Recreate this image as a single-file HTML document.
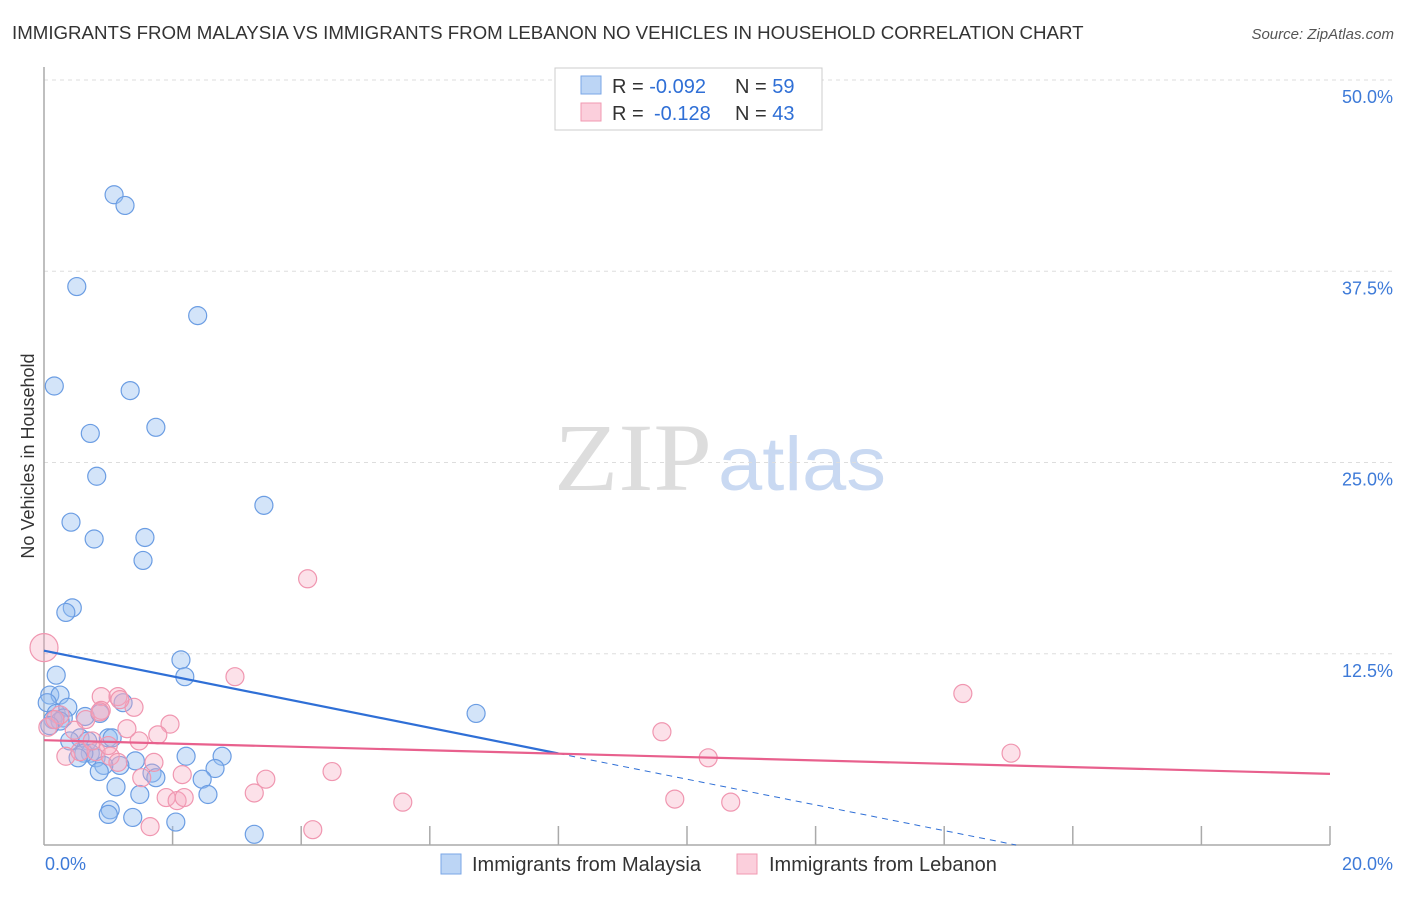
<!DOCTYPE html>
<html><head><meta charset="utf-8"><style>
body{margin:0;background:#fff;font-family:"Liberation Sans",sans-serif;}
svg text{font-family:"Liberation Sans",sans-serif;}
</style></head><body>
<svg id="chart" width="1406" height="892" viewBox="0 0 1406 892" xmlns="http://www.w3.org/2000/svg">
<text x="12" y="39" font-size="18.7" fill="#333">IMMIGRANTS FROM MALAYSIA VS IMMIGRANTS FROM LEBANON NO VEHICLES IN HOUSEHOLD CORRELATION CHART</text>
<text x="1394" y="39" font-size="15" fill="#555" text-anchor="end" font-style="italic">Source: ZipAtlas.com</text>
<text x="0" y="0" transform="translate(34,456) rotate(-90)" font-size="18" fill="#333" text-anchor="middle">No Vehicles in Household</text>
<g>
<text x="554" y="490" font-size="96" fill="#ddd" textLength="158" lengthAdjust="spacingAndGlyphs" style="font-family:'Liberation Serif',serif">ZIP</text>
<text x="718" y="490" font-size="76" fill="#c9d9f2" textLength="168" lengthAdjust="spacingAndGlyphs">atlas</text>
</g>
<g id="grid"></g>
<g id="axes"></g>
<g id="pts"></g>
<g id="lines"></g>
<g>
<rect x="555" y="68" width="267" height="62" fill="#fff" stroke="#ccc"/>
<rect x="581" y="76" width="20" height="18" fill="#bcd5f5" stroke="#7aa6e6"/>
<rect x="581" y="103" width="20" height="18" fill="#fbcfdc" stroke="#f09ab2"/>
<text x="612" y="93" font-size="20" fill="#333">R = <tspan fill="#2f6fd6">-0.092</tspan><tspan x="735">N = </tspan><tspan fill="#2f6fd6">59</tspan></text>
<text x="612" y="120" font-size="20" fill="#333">R = <tspan x="654" fill="#2f6fd6">-0.128</tspan><tspan x="735">N = </tspan><tspan fill="#2f6fd6">43</tspan></text>
</g>
<g>
<rect x="441" y="854" width="20" height="20" fill="#bcd5f5" stroke="#7aa6e6"/>
<text x="472" y="871" font-size="20" fill="#333">Immigrants from Malaysia</text>
<rect x="737" y="854" width="20" height="20" fill="#fbcfdc" stroke="#f09ab2"/>
<text x="769" y="871" font-size="20" fill="#333">Immigrants from Lebanon</text>
</g>
</svg>
<script>
const yTicks=[12.5,25,37.5,50];
const yTickLabels=["12.5%","25.0%","37.5%","50.0%"];
const xTicks=[0,2,4,6,8,10,12,14,16,18,20];
const malaysiaX=[1.09,1.26,0.51,2.39,0.16,1.34,0.72,1.74,0.82,0.42,3.42,0.78,1.57,1.54,0.44,0.34,2.13,2.19,0.19,6.72,0.09,0.25,0.05,0.19,0.37,0.14,0.30,0.64,0.87,1.23,0.56,0.68,1.00,1.06,0.72,0.81,0.62,1.42,1.18,0.93,2.21,2.77,1.68,1.74,0.86,2.66,2.46,1.12,1.49,2.55,1.03,1.00,1.38,2.05,3.27,0.25,0.53,0.09,0.40];
const malaysiaY=[42.5,41.8,36.5,34.6,30.0,29.7,26.9,27.3,24.1,21.1,22.2,20.0,20.1,18.6,15.5,15.2,12.1,11.0,11.1,8.6,9.8,9.8,9.3,8.6,9.0,8.2,8.3,8.4,8.6,9.3,7.0,6.8,7.0,7.0,6.0,5.7,6.0,5.5,5.2,5.2,5.8,5.8,4.7,4.4,4.8,5.0,4.3,3.8,3.3,3.3,2.3,2.0,1.8,1.5,0.7,8.1,5.7,7.8,6.8];
const lebanonX=[0.0,4.1,2.97,14.29,15.04,9.61,10.33,9.81,10.68,5.58,4.18,3.45,3.27,4.48,1.65,1.90,2.07,2.18,2.15,1.71,1.48,1.29,1.15,0.89,0.89,1.40,1.96,1.77,0.65,0.47,0.34,0.56,0.81,1.03,1.15,1.52,0.25,0.06,0.17,0.75,0.87,1.18,1.00];
const lebanonY=[12.9,17.4,11.0,9.9,6.0,7.4,5.7,3.0,2.8,2.8,1.0,4.3,3.4,4.8,1.2,3.1,2.9,3.1,4.6,5.4,6.8,7.6,9.7,9.7,8.8,9.0,7.9,7.2,8.2,7.5,5.8,6.1,6.1,5.8,5.4,4.4,8.5,7.7,8.2,6.8,8.7,9.5,6.5];
const lebanonR=[14,9,9,9,9,9,9,9,9,9,9,9,9,9,9,9,9,9,9,9,9,9,9,9,9,9,9,9,9,9,9,9,9,9,9,9,9,9,9,9,9,9,9];
const trendIntercept=[12.7,6.85];
const trendSlope=[-0.84,-0.11];
const NS="http://www.w3.org/2000/svg";
const X0=44,X1=1330,Y0=845,YTOP=80;
const sx=v=>X0+(X1-X0)*v/20;
const sy=v=>Y0-(Y0-YTOP)*v/50;
function mk(tag,attrs,parent){const e=document.createElementNS(NS,tag);for(const k in attrs)e.setAttribute(k,attrs[k]);document.getElementById(parent).appendChild(e);return e;}
yTicks.forEach((t,i)=>{
 const g=mk('line',{x1:X0,x2:1394,y1:sy(t),y2:sy(t),stroke:'#ddd','stroke-dasharray':'4,4'},'grid');
 
 
 const l=mk('text',{x:1393,y:sy(t)+23,'font-size':18,fill:'#3d7ad8','text-anchor':'end'},'grid');
 l.textContent=yTickLabels[i];
 
 
});
const ya=mk('line',{x1:X0,x2:X0,y1:67,y2:Y0,stroke:'#aaa','stroke-width':1.5},'axes');


const xa=mk('line',{x1:X0,x2:X1,y1:Y0,y2:Y0,stroke:'#aaa','stroke-width':1.5},'axes');


xTicks.forEach(t=>{if(t===0)return;const k=mk('line',{x1:sx(t),x2:sx(t),y1:826,y2:Y0,stroke:'#aaa','stroke-width':1.5},'axes');
 
 });
const xl0=mk('text',{x:45,y:870,'font-size':18,fill:'#3d7ad8'},'axes');xl0.textContent='0.0%';


const xl1=mk('text',{x:1393,y:870,'font-size':18,fill:'#3d7ad8','text-anchor':'end'},'axes');xl1.textContent='20.0%';


malaysiaX.forEach((x,i)=>{const c=mk('circle',{cx:sx(x),cy:sy(malaysiaY[i]),r:9,fill:'rgba(150,190,240,0.42)',stroke:'#6b9de3','stroke-width':1.2},'pts');
 
 });
lebanonX.forEach((x,i)=>{const c=mk('circle',{cx:sx(x),cy:sy(lebanonY[i]),r:lebanonR[i],fill:'rgba(246,170,192,0.35)',stroke:'#f096b0','stroke-width':1.2},'pts');
 
 });
const bEnd=8, bZero=-trendIntercept[0]/trendSlope[0];
const b1=mk('line',{x1:sx(0),y1:sy(trendIntercept[0]),x2:sx(bEnd),y2:sy(trendIntercept[0]+trendSlope[0]*bEnd),stroke:'#2f6fd6','stroke-width':2.2},'lines');


const b2=mk('line',{x1:sx(bEnd),y1:sy(trendIntercept[0]+trendSlope[0]*bEnd),x2:sx(bZero),y2:sy(0),stroke:'#2f6fd6','stroke-width':1,'stroke-dasharray':'6,5'},'lines');


const p1=mk('line',{x1:sx(0),y1:sy(trendIntercept[1]),x2:sx(20),y2:sy(trendIntercept[1]+trendSlope[1]*20),stroke:'#e8608d','stroke-width':2.2},'lines');


</script>
</body></html>
